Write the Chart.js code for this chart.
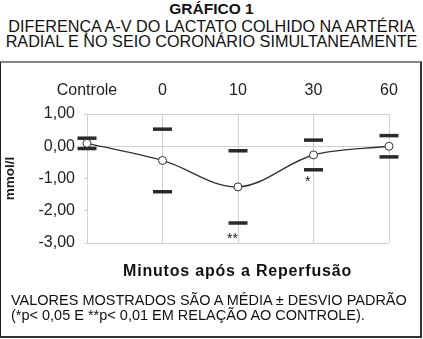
<!DOCTYPE html>
<html>
<head>
<meta charset="utf-8">
<script src="https://cdn.jsdelivr.net/npm/chart.js@4/dist/chart.umd.min.js"></script>
<style>
  html, body { margin: 0; padding: 0; background: #fff; }
  body { width: 423px; height: 339px; position: relative; overflow: hidden;
         font-family: "Liberation Sans", Arial, sans-serif; color: #111; }
  .t { position: absolute; left: 0; width: 423px; text-align: center; line-height: 1; white-space: nowrap; }
  #box { position: absolute; left: 0; top: 61px; width: 422px; height: 277px; box-sizing: border-box;
         border-top: 2px solid #888; border-left: 1.5px solid #222; border-right: 2px solid #333;
         border-bottom: 2px solid #333; pointer-events: none; }
  #chart { position: absolute; left: 0; top: 0; }
  .note { position: absolute; left: 11px; font-size: 14.5px; line-height: 1; white-space: nowrap; }
</style>
</head>
<body>
<div class="t" style="top:1.4px;font-size:15.5px;font-weight:bold">GRÁFICO 1</div>
<div class="t" style="top:18px;font-size:16.2px">DIFERENÇA A-V DO LACTATO COLHIDO NA ARTÉRIA</div>
<div class="t" style="top:33.4px;font-size:16.2px">RADIAL E NO SEIO CORONÁRIO SIMULTANEAMENTE</div>
<canvas id="chart" width="423" height="339"></canvas>
<div class="t" style="top:263px;left:26px;width:423px;font-size:16px;font-weight:bold;letter-spacing:0.8px">Minutos após a Reperfusão</div>
<div class="note" style="top:292.6px">VALORES MOSTRADOS SÃO A MÉDIA ± DESVIO PADRÃO</div>
<div class="note" style="top:308.2px">(*p&lt; 0,05 E **p&lt; 0,01 EM RELAÇÃO AO CONTROLE).</div>
<div id="box"></div>
<script>
// values (mmol/l)
const times = ["Controle", "0", "10", "30", "60"];
const means = [0.09, -0.44, -1.26, -0.27, 0.0];
const sds = [0.16, 0.97, 1.12, 0.46, 0.33];
const sigMarks = ["", "", "**", "*", ""];
const sigY = [null, null, -2.78, -1.03, null];
const yTicks = [1, 0, -1, -2, -3];

const FONT = "'Liberation Sans', Arial, sans-serif";
const INK = "#222";
const fmt = (v) => v.toFixed(2).replace(".", ",");

// asterisks for significance, anchored to the category scale
const sigDx = [0, 0, 0, -3, 0];
const sigPlugin = {
  id: "sig",
  afterDatasetsDraw(chart) {
    const { ctx, scales: { x, y } } = chart;
    ctx.save();
    ctx.font = "14px " + FONT;
    ctx.fillStyle = INK;
    ctx.textAlign = "right";
    ctx.textBaseline = "middle";
    sigMarks.forEach((m, i) => {
      if (!m) return;
      ctx.fillText(m, x.getPixelForValue(i) + sigDx[i], y.getPixelForValue(sigY[i]) + 3);
    });
    ctx.restore();
  },
};

const cap = (vals) => ({
  data: vals, showLine: false, pointStyle: "line", pointRadius: 9.5,
  pointBorderWidth: 3.5, pointBorderColor: "#2a2a2a", borderColor: "#2a2a2a", clip: false,
});

new Chart(document.getElementById("chart").getContext("2d"), {
  type: "line",
  data: {
    labels: times,
    datasets: [
      { data: means, borderColor: "#333", borderWidth: 1.4, tension: 0.35, pointRadius: 4,
        pointBackgroundColor: "#fff", pointBorderColor: "#333", pointBorderWidth: 1, clip: false },
      cap(means.map((m, i) => m + sds[i])),
      cap(means.map((m, i) => m - sds[i])),
    ],
  },
  options: {
    responsive: false, animation: false, devicePixelRatio: 1,
    layout: { padding: { top: 80, left: 0, right: 34, bottom: 96 } },
    plugins: { legend: { display: false }, tooltip: { enabled: false } },
    scales: {
      x: {
        position: "top", offset: false,
        afterFit: (s) => { s.height = 34; },
        grid: { color: "#cfcfcf", drawTicks: false },
        border: { color: "#cfcfcf" },
        ticks: { color: INK, padding: 14, font: { family: FONT, size: 16 }, maxRotation: 0 },
      },
      y: {
        min: -3, max: 1,
        afterFit: (s) => { s.width = 87; },
        afterBuildTicks: (s) => { s.ticks = yTicks.map((v) => ({ value: v })); },
        grid: {
          color: (c) => (c.tick && (c.tick.value === -1 || c.tick.value === -2) ? "rgba(0,0,0,0)" : "#cfcfcf"),
          tickColor: "#cfcfcf", tickLength: 3,
        },
        border: { color: "#cfcfcf" },
        ticks: { color: INK, padding: 9, font: { family: FONT, size: 16 }, callback: (v) => fmt(v) },
        title: { display: true, text: "mmol/l", color: INK, align: "center", padding: { top: 2, bottom: 0 },
                 font: { family: FONT, size: 13.5, weight: "bold" } },
      },
    },
  },
  plugins: [sigPlugin],
});
</script>
</body>
</html>
